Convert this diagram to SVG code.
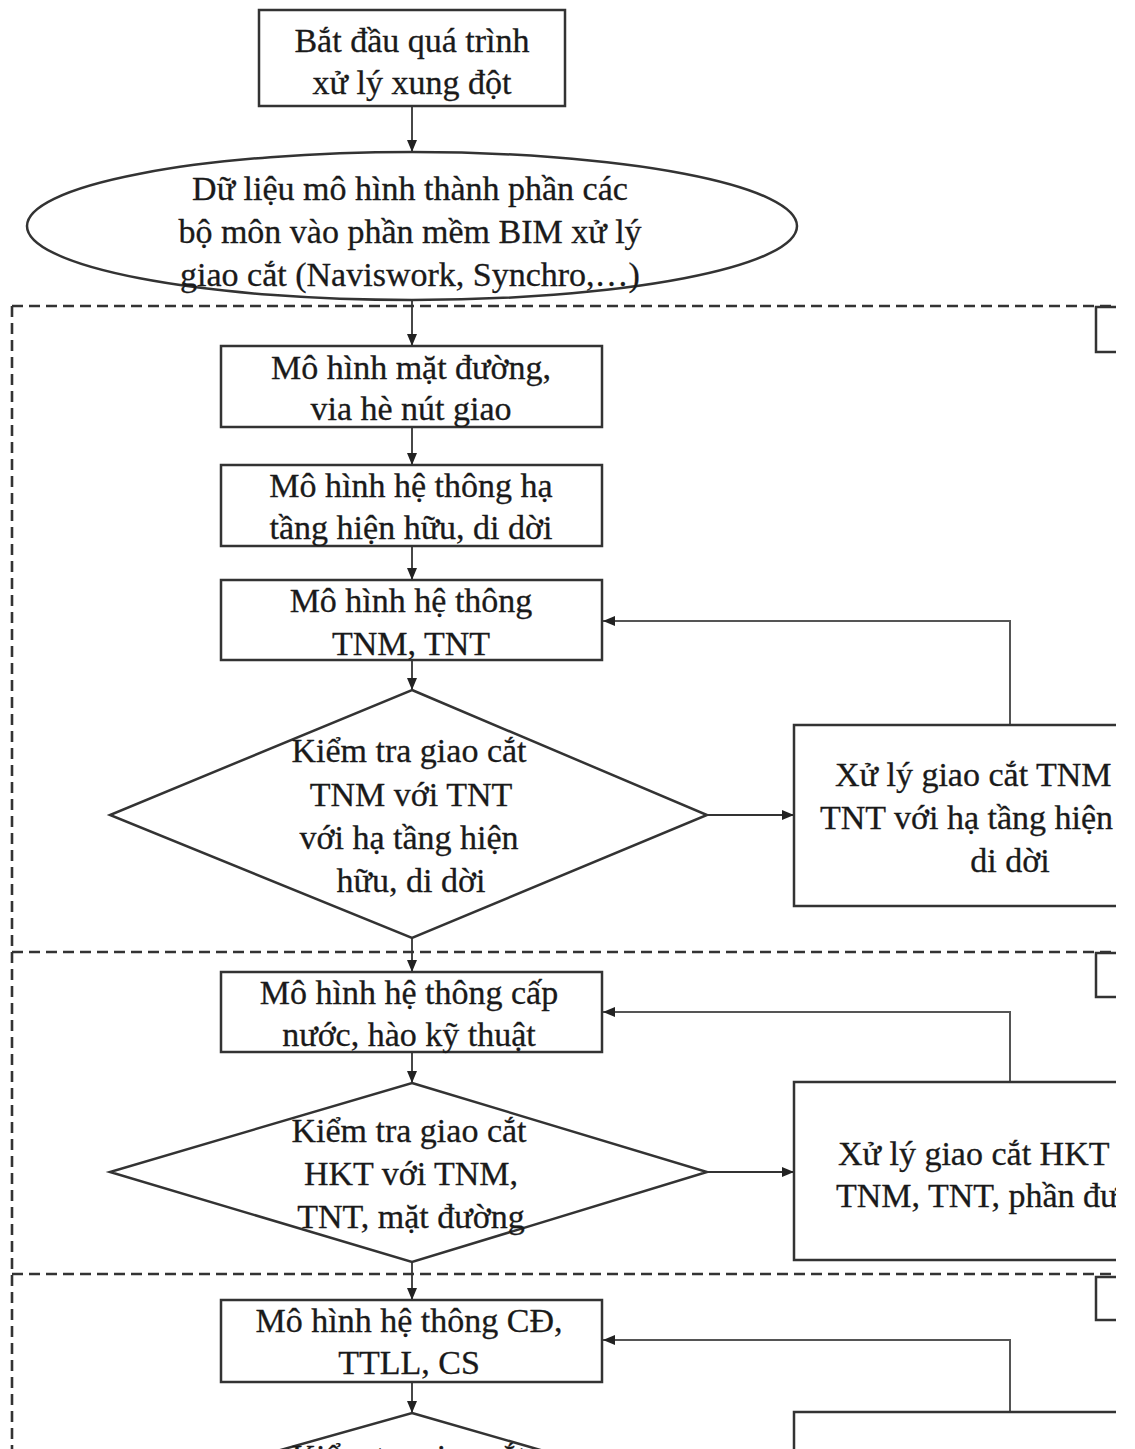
<svg xmlns="http://www.w3.org/2000/svg" width="1135" height="1449" viewBox="0 0 1135 1449">
<style>
.t{font-family:"Liberation Serif","Times New Roman",serif;font-size:34px;fill:#1a1a1a;stroke:#1a1a1a;stroke-width:0.3;text-anchor:middle}
.ts{font-family:"Liberation Serif","Times New Roman",serif;font-size:34px;fill:#1a1a1a;stroke:#1a1a1a;stroke-width:0.3;text-anchor:start}
.box{fill:#fff;stroke:#333;stroke-width:2.5}
.ln{fill:none;stroke:#333;stroke-width:1.8}
.fb{fill:none;stroke:#555;stroke-width:2}
.dash{fill:none;stroke:#333;stroke-width:2.6;stroke-dasharray:11 6}
</style>
<defs>
<marker id="ah" markerWidth="12" markerHeight="10" refX="12" refY="5" orient="auto" markerUnits="userSpaceOnUse">
<path d="M0,0 L12,5 L0,10 z" fill="#222"/>
</marker>
<clipPath id="clip"><rect x="0" y="0" width="1116" height="1449"/></clipPath>
</defs>
<rect width="1135" height="1449" fill="#fff"/>
<g clip-path="url(#clip)">
<g id="regions">
<path class="dash" d="M12,306 H1116"/>
<path class="dash" d="M12,952 H1116"/>
<path class="dash" d="M12,1274 H1116"/>
<path class="dash" d="M12,306 V1449"/>
<rect class="box" x="1096" y="307" width="100" height="45"/>
<rect class="box" x="1096" y="953" width="100" height="44"/>
<rect class="box" x="1096" y="1277" width="100" height="43"/>
</g>
<g id="connectors">
<path class="ln" d="M412,106 V152" marker-end="url(#ah)"/>
<path class="ln" d="M412,300 V346" marker-end="url(#ah)"/>
<path class="ln" d="M412,427 V465" marker-end="url(#ah)"/>
<path class="ln" d="M412,546 V580" marker-end="url(#ah)"/>
<path class="ln" d="M412,660 V690" marker-end="url(#ah)"/>
<path class="ln" d="M707,815 H794" marker-end="url(#ah)"/>
<path class="fb" d="M1010,725 V621 H603" marker-end="url(#ah)"/>
<path class="ln" d="M412,938 V972" marker-end="url(#ah)"/>
<path class="ln" d="M412,1052 V1083" marker-end="url(#ah)"/>
<path class="ln" d="M707,1172 H794" marker-end="url(#ah)"/>
<path class="fb" d="M1010,1082 V1012 H603" marker-end="url(#ah)"/>
<path class="ln" d="M412,1262 V1300" marker-end="url(#ah)"/>
<path class="ln" d="M412,1382 V1413" marker-end="url(#ah)"/>
<path class="fb" d="M1010,1412 V1340 H603" marker-end="url(#ah)"/>
</g>
<g id="start">
<rect class="box" x="259" y="10" width="306" height="96"/>
<text class="t" x="412" y="52">Bắt đầu quá trình</text>
<text class="t" x="412" y="94">xử lý xung đột</text>
</g>
<g id="data">
<ellipse class="box" cx="412" cy="226" rx="385" ry="74"/>
<text class="t" x="410" y="200">Dữ liệu mô hình thành phần các</text>
<text class="t" x="410" y="243">bộ môn vào phần mềm BIM xử lý</text>
<text class="t" x="410" y="286">giao cắt (Naviswork, Synchro,…)</text>
</g>
<g id="road">
<rect class="box" x="221" y="346" width="381" height="81"/>
<text class="t" x="411" y="379">Mô hình mặt đường,</text>
<text class="t" x="411" y="420">via hè nút giao</text>
</g>
<g id="infra">
<rect class="box" x="221" y="465" width="381" height="81"/>
<text class="t" x="411" y="497">Mô hình hệ thông hạ</text>
<text class="t" x="411" y="539">tầng hiện hữu, di dời</text>
</g>
<g id="tnm">
<rect class="box" x="221" y="580" width="381" height="80"/>
<text class="t" x="411" y="612">Mô hình hệ thông</text>
<text class="t" x="411" y="655">TNM, TNT</text>
</g>
<g id="check1">
<polygon class="box" points="412,690 707,815 412,938 110,815"/>
<text class="t" x="409" y="762">Kiểm tra giao cắt</text>
<text class="t" x="411" y="806">TNM với TNT</text>
<text class="t" x="409" y="849">với hạ tầng hiện</text>
<text class="t" x="411" y="892">hữu, di dời</text>
</g>
<g id="fix1">
<rect class="box" x="794" y="725" width="420" height="181"/>
<text class="ts" x="835" y="786">Xử lý giao cắt TNM</text>
<text class="ts" x="820" y="829">TNT với hạ tầng hiện</text>
<text class="t" x="1010" y="872">di dời</text>
</g>
<g id="water">
<rect class="box" x="221" y="972" width="381" height="80"/>
<text class="t" x="409" y="1004">Mô hình hệ thông cấp</text>
<text class="t" x="409" y="1046">nước, hào kỹ thuật</text>
</g>
<g id="check2">
<polygon class="box" points="412,1083 707,1172 412,1262 110,1172"/>
<text class="t" x="409" y="1142">Kiểm tra giao cắt</text>
<text class="t" x="411" y="1185">HKT với TNM,</text>
<text class="t" x="411" y="1228">TNT, mặt đường</text>
</g>
<g id="fix2">
<rect class="box" x="794" y="1082" width="420" height="178"/>
<text class="ts" x="838" y="1165">Xử lý giao cắt HKT</text>
<text class="ts" x="836" y="1207">TNM, TNT, phần đư</text>
</g>
<g id="power">
<rect class="box" x="221" y="1300" width="381" height="82"/>
<text class="t" x="409" y="1332">Mô hình hệ thông CĐ,</text>
<text class="t" x="409" y="1374">TTLL, CS</text>
</g>
<g id="check3">
<polygon class="box" points="412,1413 707,1498 412,1583 110,1498"/>
<text class="t" x="409" y="1468">Kiểm tra giao cắt</text>
</g>
<g id="fix3">
<rect class="box" x="794" y="1412" width="420" height="178"/>
</g>
</g>
</svg>
